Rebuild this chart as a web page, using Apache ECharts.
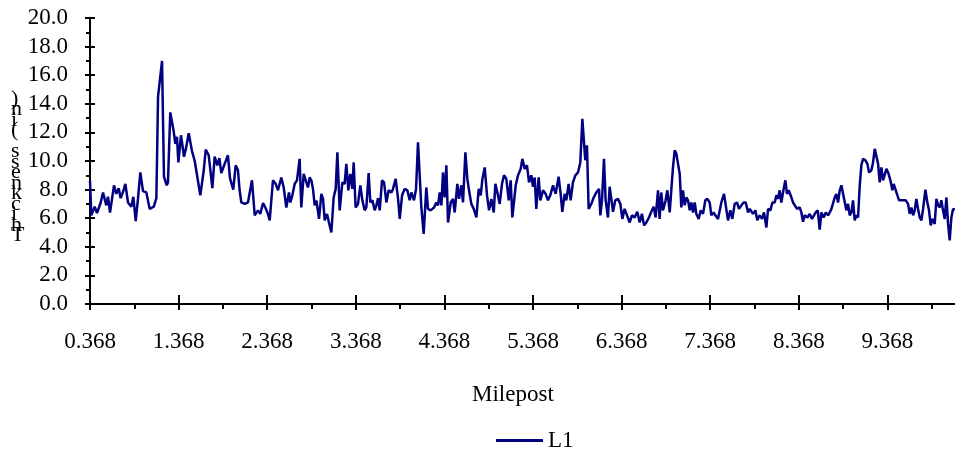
<!DOCTYPE html>
<html>
<head>
<meta charset="utf-8">
<script src="https://cdn.jsdelivr.net/npm/echarts@6/dist/echarts.min.js"></script>
<style>
  html, body { margin: 0; padding: 0; background: #fff; }
  #chart { width: 955px; height: 454px; }
</style>
</head>
<body>
<div id="chart"></div>
<script>
// Milepost vs thickness
const milepost = [
  0.368, 0.383, 0.421, 0.447, 0.489, 0.515, 0.552, 0.571, 0.594, 0.639,
  0.665, 0.692, 0.714, 0.744, 0.767, 0.797, 0.834, 0.857, 0.884, 0.910,
  0.936, 0.966, 1.004, 1.042, 1.087, 1.117, 1.136, 1.181, 1.203, 1.234,
  1.248, 1.274, 1.312, 1.331, 1.350, 1.365, 1.395, 1.429, 1.452, 1.482,
  1.519, 1.550, 1.613, 1.651, 1.674, 1.708, 1.749, 1.775, 1.805, 1.828,
  1.850, 1.888, 1.925, 1.948, 1.985, 2.012, 2.038, 2.057, 2.076, 2.114,
  2.151, 2.196, 2.227, 2.264, 2.290, 2.321, 2.347, 2.377, 2.396, 2.433,
  2.464, 2.490, 2.527, 2.554, 2.584, 2.614, 2.629, 2.652, 2.678, 2.704,
  2.734, 2.753, 2.780, 2.802, 2.828, 2.847, 2.866, 2.885, 2.904, 2.923,
  2.953, 2.979, 2.998, 3.017, 3.043, 3.065, 3.092, 3.118, 3.141, 3.160,
  3.186, 3.216, 3.242, 3.261, 3.284, 3.306, 3.329, 3.344, 3.366, 3.393,
  3.419, 3.442, 3.468, 3.487, 3.513, 3.532, 3.555, 3.581, 3.600, 3.619,
  3.638, 3.664, 3.687, 3.713, 3.739, 3.770, 3.788, 3.818, 3.845, 3.864,
  3.890, 3.920, 3.950, 3.976, 3.995, 4.025, 4.048, 4.070, 4.085, 4.108,
  4.134, 4.164, 4.183, 4.213, 4.251, 4.277, 4.296, 4.315, 4.334, 4.352,
  4.371, 4.390, 4.409, 4.439, 4.465, 4.484, 4.514, 4.533, 4.559, 4.578,
  4.605, 4.627, 4.646, 4.672, 4.699, 4.729, 4.755, 4.778, 4.797, 4.823,
  4.849, 4.872, 4.898, 4.925, 4.943, 4.966, 4.992, 5.018, 5.041, 5.067,
  5.094, 5.116, 5.135, 5.154, 5.173, 5.199, 5.229, 5.248, 5.274, 5.300,
  5.323, 5.349, 5.368, 5.387, 5.405, 5.432, 5.451, 5.481, 5.511, 5.537,
  5.563, 5.594, 5.624, 5.657, 5.680, 5.699, 5.725, 5.744, 5.770, 5.793,
  5.819, 5.846, 5.876, 5.902, 5.925, 5.943, 5.958, 5.977, 5.996, 6.026,
  6.053, 6.083, 6.113, 6.128, 6.147, 6.169, 6.188, 6.214, 6.233, 6.252,
  6.271, 6.297, 6.327, 6.354, 6.376, 6.402, 6.429, 6.459, 6.485, 6.515,
  6.545, 6.572, 6.598, 6.621, 6.647, 6.677, 6.703, 6.730, 6.752, 6.779,
  6.797, 6.816, 6.835, 6.865, 6.884, 6.911, 6.930, 6.948, 6.967, 6.986,
  7.005, 7.024, 7.042, 7.061, 7.080, 7.099, 7.118, 7.137, 7.155, 7.174,
  7.193, 7.212, 7.238, 7.261, 7.287, 7.313, 7.336, 7.362, 7.381, 7.407,
  7.426, 7.456, 7.494, 7.524, 7.543, 7.569, 7.595, 7.618, 7.644, 7.671,
  7.693, 7.720, 7.746, 7.769, 7.795, 7.814, 7.833, 7.851, 7.878, 7.900,
  7.926, 7.953, 7.975, 8.002, 8.021, 8.047, 8.070, 8.096, 8.115, 8.134,
  8.152, 8.171, 8.190, 8.216, 8.235, 8.254, 8.276, 8.303, 8.322, 8.348,
  8.378, 8.397, 8.416, 8.434, 8.465, 8.491, 8.517, 8.559, 8.582, 8.604,
  8.623, 8.649, 8.672, 8.698, 8.717, 8.736, 8.755, 8.774, 8.792, 8.811,
  8.830, 8.849, 8.868, 8.886, 8.905, 8.924, 8.943, 8.962, 8.980, 8.999,
  9.018, 9.037, 9.056, 9.074, 9.093, 9.120, 9.142, 9.161, 9.187, 9.206,
  9.225, 9.244, 9.263, 9.281, 9.300, 9.319, 9.338, 9.357, 9.376, 9.402,
  9.424, 9.439, 9.458, 9.481, 9.500, 9.515, 9.545, 9.575, 9.601, 9.620,
  9.639, 9.658, 9.676, 9.695, 9.714, 9.733, 9.752, 9.771, 9.797, 9.819,
  9.838, 9.857, 9.876, 9.902, 9.921, 9.940, 9.959, 9.977, 9.996, 10.015,
  10.034, 10.053, 10.071, 10.090, 10.109, 10.131
];
const thickness = [
  8.6, 6.2, 6.8, 6.35, 7.1, 7.8, 6.9, 7.5, 6.4, 8.3,
  7.7, 8.1, 7.4, 7.9, 8.4, 7.1, 6.8, 7.5, 5.8, 7.4,
  9.2, 7.9, 7.8, 6.65, 6.8, 7.4, 14.5, 17.0, 8.9, 8.3,
  8.5, 13.4, 12.1, 11.2, 11.7, 9.9, 11.8, 10.3, 10.9, 11.95,
  10.7, 10.0, 7.6, 9.3, 10.8, 10.4, 8.1, 10.3, 9.7, 10.2,
  9.15, 9.8, 10.4, 8.8, 8.0, 9.7, 9.35, 7.95, 7.1, 7.0,
  7.1, 8.65, 6.2, 6.55, 6.3, 7.05, 6.75, 6.3, 5.85, 8.65,
  8.4, 7.95, 8.85, 8.15, 6.75, 7.8, 7.1, 7.6, 8.4, 8.65,
  10.15, 6.75, 9.1, 9.2, 8.15, 8.85, 8.65, 8.05, 6.9, 7.25,
  5.95, 7.7, 7.35, 5.85, 6.3, 5.7, 5.0, 7.45, 8.05, 10.6,
  6.55, 8.5, 8.4, 9.8, 7.95, 9.1, 8.05, 9.9, 6.75, 7.0,
  8.3, 7.25, 6.55, 6.75, 9.15, 7.1, 7.25, 6.55, 6.9, 7.4,
  6.55, 8.65, 8.5, 7.1, 7.95, 7.8, 8.05, 8.75, 7.35, 5.95,
  7.6, 8.05, 7.95, 7.25, 7.8, 7.25, 8.05, 11.3, 11.3, 6.75,
  4.9, 8.15, 6.65, 6.55, 6.75, 7.1, 6.9, 7.8, 6.9, 9.2,
  7.45, 9.7, 5.7, 7.1, 7.35, 6.4, 8.4, 7.35, 8.3, 7.1,
  10.6, 8.75, 7.95, 7.0, 6.65, 6.05, 8.05, 7.6, 8.75, 9.55,
  7.6, 6.55, 7.35, 6.4, 8.4, 7.8, 7.0, 8.4, 9.0, 8.75,
  7.25, 8.65, 6.05, 5.95, 8.3, 9.0, 9.45, 10.15, 9.45, 9.7,
  8.5, 9.0, 8.2, 8.85, 6.65, 8.85, 7.25, 7.95, 7.7, 7.25,
  7.6, 8.3, 7.7, 8.9, 7.7, 6.45, 7.7, 7.25, 8.4, 7.25,
  8.5, 9.0, 9.2, 9.9, 12.95, 12.95, 10.05, 11.1, 6.65, 7.0,
  7.45, 7.8, 8.05, 6.2, 7.25, 10.15, 7.25, 6.05, 8.2, 7.35,
  6.45, 7.25, 7.35, 7.0, 5.95, 6.65, 6.2, 5.7, 6.2, 6.05,
  6.45, 5.7, 6.3, 5.5, 5.7, 6.05, 6.45, 6.8, 6.05, 7.95,
  5.95, 7.8, 6.55, 7.25, 7.95, 6.4, 8.05, 9.55, 10.75, 10.5,
  9.8, 9.1, 6.75, 7.95, 6.9, 7.45, 7.25, 6.55, 7.1, 6.4,
  7.1, 6.3, 5.95, 6.55, 6.3, 7.25, 7.35, 7.1, 6.2, 6.4,
  6.2, 5.95, 7.1, 7.7, 7.6, 5.85, 6.55, 5.95, 7.0, 7.1,
  6.65, 6.9, 7.1, 7.1, 6.4, 6.65, 6.75, 6.3, 6.55, 5.85,
  6.2, 5.95, 6.4, 5.35, 6.65, 6.55, 7.1, 7.1, 7.6, 7.35,
  7.95, 7.1, 7.8, 8.65, 7.7, 7.95, 7.6, 7.1, 7.0, 6.65,
  6.75, 6.4, 5.75, 6.2, 6.05, 6.3, 5.95, 6.4, 6.55, 5.2,
  6.4, 6.05, 6.4, 6.2, 6.4, 6.65, 6.75, 7.45, 7.7, 7.1,
  7.95, 8.3, 7.7, 7.6, 6.55, 7.0, 6.2, 6.4, 7.25, 5.85,
  6.2, 6.05, 8.3, 9.7, 10.15, 10.05, 9.8, 9.2, 9.35, 9.9,
  10.85, 10.95, 9.8, 8.5, 9.55, 8.65, 8.75, 9.45, 9.2, 8.65,
  7.95, 8.4, 8.3, 7.6, 7.25, 7.35, 7.25, 7.25, 7.0, 6.3,
  6.75, 6.2, 6.55, 7.35, 6.65, 6.05, 5.85, 6.65, 8.0, 7.1,
  6.55, 5.5, 5.95, 5.6, 7.35, 6.9, 6.75, 7.25, 6.55, 5.95,
  7.45, 5.6, 4.45, 6.05, 6.65, 6.6
];

const seriesName = 'L1';
const yTitle = 'Thickness (in)';
const xTitle = 'Milepost';
const startMilepost = 0.368; // first tick label; ticks are every mile from here

const serif = '"Liberation Serif", "Times New Roman", serif';
const navy = '#000080';

let chartDom = document.getElementById('chart');
let myChart = echarts.init(chartDom, null, { renderer: 'canvas' });

// the y title is drawn as a column of upright letters, last letter on top
let stackedTitle = yTitle.split('').reverse().join('\n');

// x axis runs in miles from the start milepost, labels add it back
let xBase = {
  type: 'value',
  min: 0,
  max: 10,
  interval: 1,
  position: 'bottom',
  splitLine: { show: false }
};
let yBase = {
  type: 'value',
  min: 0,
  max: 20,
  interval: 2,
  position: 'left',
  splitLine: { show: false }
};

let option = {
  animation: false,
  backgroundColor: '#fff',
  // plot runs past the right edge so the last sample sits on the border
  grid: {
    left: 90, width: 886, top: 18, bottom: 150,
    containLabel: false, outerBoundsMode: 'none'
  },
  legend: {
    data: [seriesName],
    left: 491,
    top: 424,
    icon: 'rect',
    itemWidth: 47,
    itemHeight: 3,
    itemGap: 6,
    textStyle: { fontFamily: serif, fontSize: 23, color: '#000' }
  },
  xAxis: [
    Object.assign({}, xBase, {
      axisLine: { show: true, lineStyle: { color: '#000', width: 2 } },
      axisTick: { show: true, inside: false, length: 6, lineStyle: { color: '#000', width: 2 } },
      minorTick: { show: true, splitNumber: 2, length: 5, lineStyle: { color: '#000', width: 2 } },
      axisLabel: {
        show: true,
        margin: 26,
        showMaxLabel: false,
        fontFamily: serif,
        fontSize: 23,
        color: '#000',
        formatter: function (v) { return (v + startMilepost).toFixed(3); }
      }
    }),
    Object.assign({}, xBase, {
      axisLine: { show: false },
      axisTick: { show: true, inside: true, length: 9, lineStyle: { color: '#000', width: 2 } },
      axisLabel: { show: false }
    })
  ],
  yAxis: [
    Object.assign({}, yBase, {
      axisLine: { show: true, lineStyle: { color: '#000', width: 2 } },
      axisTick: { show: true, inside: false, length: 5, lineStyle: { color: '#000', width: 2 } },
      minorTick: { show: true, splitNumber: 2, length: 4, lineStyle: { color: '#000', width: 2 } },
      axisLabel: {
        show: true,
        margin: 22,
        fontFamily: serif,
        fontSize: 23,
        color: '#000',
        formatter: function (v) { return v.toFixed(1); }
      }
    }),
    Object.assign({}, yBase, {
      axisLine: { show: false },
      axisTick: { show: true, inside: true, length: 5, lineStyle: { color: '#000', width: 2 } },
      axisLabel: { show: false }
    })
  ],
  graphic: [
    {
      type: 'text',
      left: 472,
      top: 383,
      style: { text: xTitle, font: '23px ' + serif, fill: '#000' }
    },
    {
      type: 'text',
      left: 11,
      top: 88,
      style: {
        text: stackedTitle,
        font: '22px ' + serif,
        fill: '#000',
        lineHeight: 10.5,
        align: 'center'
      }
    }
  ],
  series: [
    {
      name: seriesName,
      type: 'line',
      xAxisIndex: 0,
      yAxisIndex: 0,
      data: milepost.map((m, i) => [m - startMilepost, thickness[i]]),
      showSymbol: false,
      symbol: 'none',
      lineStyle: { color: navy, width: 2.5 },
      itemStyle: { color: navy }
    }
  ]
};

myChart.setOption(option);
</script>
</body>
</html>
